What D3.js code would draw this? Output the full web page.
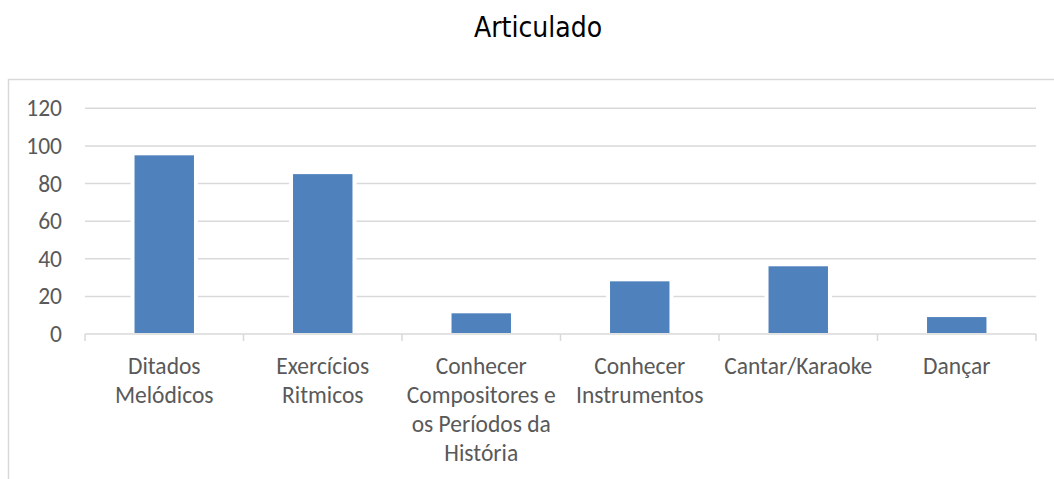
<!DOCTYPE html>
<html>
<head>
<meta charset="utf-8">
<script src="https://cdn.jsdelivr.net/npm/d3@7"></script>
<style>
  body { margin: 0; background: #fff; }
  svg { display: block; }
  .tick-label, .cat-label { font-family: Carlito, "Open Sans", sans-serif; fill: #595959; }
  .title { font-family: "DejaVu Sans Condensed", "DejaVu Sans", sans-serif; fill: #000; }
</style>
</head>
<body>
<svg id="chart" width="1054" height="479"></svg>
<script>
const chartTitle = 'Articulado'
const categories = ['Ditados\nMelódicos', 'Exercícios\nRitmicos', 'Conhecer\nCompositores e\nos Períodos da\nHistória', 'Conhecer\nInstrumentos', 'Cantar/Karaoke', 'Dançar']
const values = [95, 85, 11, 28, 36, 9]
const yTicks = [0, 20, 40, 60, 80, 100, 120]

const plotLeft = 85, plotRight = 1036, plotTop = 108.3, plotBottom = 334

const svg = d3.select('#chart')

// outer chart frame (runs off the right/bottom edge)
svg.append('rect')
    .attr('x', 8.5).attr('y', 79.5)
    .attr('width', 1100).attr('height', 500)
    .attr('fill', 'none').attr('stroke', '#d9d9d9').attr('stroke-width', 1.5)

svg.append('text')
    .attr('class', 'title')
    .attr('x', 538).attr('y', 36.7)
    .attr('text-anchor', 'middle')
    .style('font-size', '28px')
    .text(chartTitle)

const xScale = d3.scaleBand().domain(categories).range([plotLeft, plotRight])
    .paddingInner(0.625).paddingOuter(0.3125)
const yScale = d3.scaleLinear().domain([0, 120]).range([plotBottom, plotTop])

// gridlines
svg.append('g').selectAll('line')
    .data(yTicks.filter(d => d > 0))
    .enter().append('line')
    .attr('x1', plotLeft).attr('x2', plotRight)
    .attr('y1', d => yScale(d)).attr('y2', d => yScale(d))
    .attr('stroke', '#d9d9d9').attr('stroke-width', 1.5)

// y tick labels
svg.append('g').selectAll('text')
    .data(yTicks)
    .enter().append('text')
    .attr('class', 'tick-label')
    .attr('x', 62).attr('y', d => yScale(d))
    .attr('dy', '0.34em')
    .attr('text-anchor', 'end')
    .style('font-size', '23.5px')
    .text(d => d)

// white gap around the bars
svg.append('g').selectAll('rect')
    .data(values)
    .enter().append('rect')
    .attr('x', (d, i) => xScale(categories[i]) - 4)
    .attr('y', d => yScale(d) - 4)
    .attr('width', xScale.bandwidth() + 8)
    .attr('height', d => plotBottom - yScale(d) + 4)
    .attr('fill', '#fff')

// category axis line and separators
const axisG = svg.append('g').attr('transform', 'translate(0,' + plotBottom + ')')
axisG.append('line').attr('x1', plotLeft).attr('x2', plotRight)
    .attr('stroke', '#d9d9d9').attr('stroke-width', 1.5)
const step = xScale.step()
axisG.selectAll('.sep')
    .data(d3.range(categories.length + 1))
    .enter().append('line')
    .attr('x1', i => plotLeft + i * step).attr('x2', i => plotLeft + i * step)
    .attr('y1', 0).attr('y2', 7)
    .attr('stroke', '#d9d9d9').attr('stroke-width', 1.5)

// bars
svg.append('g').selectAll('rect')
    .data(values)
    .enter().append('rect')
    .attr('x', (d, i) => xScale(categories[i]))
    .attr('y', d => yScale(d))
    .attr('width', xScale.bandwidth())
    .attr('height', d => plotBottom - 1 - yScale(d))
    .attr('fill', '#4f81bd')

// category labels
const labels = svg.append('g').selectAll('text')
    .data(categories)
    .enter().append('text')
    .attr('class', 'cat-label')
    .attr('x', d => xScale(d) + xScale.bandwidth() / 2)
    .attr('y', 374)
    .attr('text-anchor', 'middle')
    .style('font-size', '23.5px')

labels.selectAll('tspan')
    .data(d => d.split('\n'))
    .enter().append('tspan')
    .attr('x', function() { return d3.select(this.parentNode).attr('x') })
    .attr('dy', (d, i) => i === 0 ? 0 : 29)
    .text(d => d)
</script>
</body>
</html>
